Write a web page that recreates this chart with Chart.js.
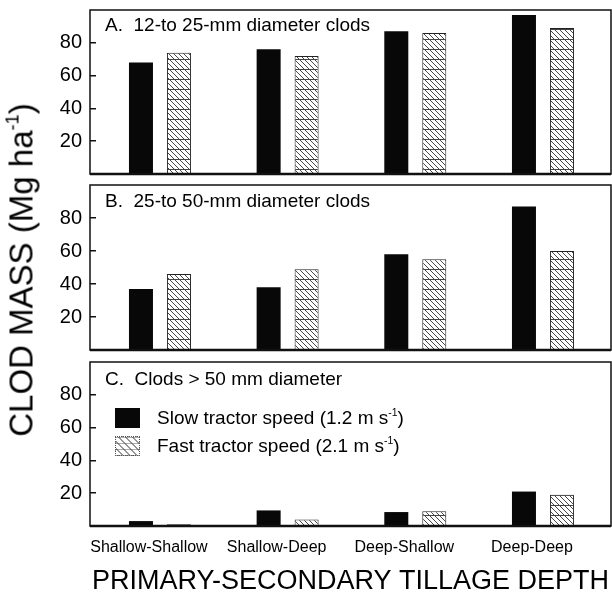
<!DOCTYPE html>
<html><head><meta charset="utf-8">
<script src="https://cdn.jsdelivr.net/npm/chart.js@4.4.1/dist/chart.umd.min.js"></script>
<style>
html,body{margin:0;padding:0;background:#fff;}
body{width:612px;height:593px;overflow:hidden;position:relative;font-family:"Liberation Sans",Arial,Helvetica,sans-serif;color:#000;}
canvas{position:absolute;left:0;}
.ptitle{position:absolute;left:105px;font-size:19px;line-height:22px;white-space:nowrap;}
#ytitle{position:absolute;left:24px;top:270px;transform:translate(-50%,-50%) rotate(-90deg);white-space:nowrap;font-size:33px;line-height:36px;}
sup{font-size:55%;vertical-align:0;position:relative;top:-0.75em;}
.lrow{position:absolute;left:115px;height:21px;white-space:nowrap;font-size:19px;line-height:21px;}
.lbox{position:absolute;left:0;top:0;width:25px;height:20px;box-sizing:border-box;}
.ltext{position:absolute;left:42px;top:-1px;}
</style></head><body>
<canvas id="cA" width="612" height="180" style="top:0px;width:612px;height:180px"></canvas>
<canvas id="cB" width="612" height="176" style="top:180px;width:612px;height:176px"></canvas>
<canvas id="cC" width="612" height="237" style="top:356px;width:612px;height:237px"></canvas>
<div id="tA" class="ptitle" style="top:14px"></div>
<div id="tB" class="ptitle" style="top:190px"></div>
<div id="tC" class="ptitle" style="top:368px"></div>
<div id="ytitle"></div>
<div id="legend"></div>
<script>
// ---- data ----
const categories = ['Shallow-Shallow', 'Shallow-Deep', 'Deep-Shallow', 'Deep-Deep'];
const seriesNames = ['Slow tractor speed (1.2 m s^-1)', 'Fast tractor speed (2.1 m s^-1)'];
const panelTitles = ['A.\u00a0 12-to 25-mm diameter clods', 'B.\u00a0 25-to 50-mm diameter clods', 'C.\u00a0 Clods > 50 mm diameter'];
const slowA = [68, 76, 87, 97];
const fastA = [74, 72, 86, 89];
const slowB = [37, 38, 58, 87];
const fastB = [46, 49, 55, 60];
const slowC = [3, 9.5, 8.5, 21];
const fastC = [1, 4, 9, 19];
const yTicks = [20, 40, 60, 80];
const yMax = 100;
const yTitle = 'CLOD MASS (Mg ha^-1)';
const xTitle = 'PRIMARY-SECONDARY TILLAGE DEPTH';

function supHtml(s){
  return s.replace(/&/g,'&amp;').replace(/</g,'&lt;').replace(/>/g,'&gt;').replace(/\^(-?\d+)/g,'<sup>$1</sup>');
}

function makeHatch(){
  const c = document.createElement('canvas'); c.width = 10; c.height = 10;
  const g = c.getContext('2d');
  g.fillStyle = '#fff'; g.fillRect(0,0,10,10);
  g.strokeStyle = '#333'; g.lineWidth = 0.9;
  g.beginPath();
  g.moveTo(-1,-1); g.lineTo(11,11);
  g.moveTo(4,-1); g.lineTo(11,6);
  g.moveTo(-1,4); g.lineTo(6,11);
  g.stroke();
  g.strokeStyle = '#444'; g.lineWidth = 1;
  g.beginPath(); g.moveTo(0,9.5); g.lineTo(10,9.5); g.stroke();
  return g.createPattern(c,'repeat');
}
const hatch = makeHatch();

const framePlugin = {
  id: 'frame',
  afterDraw(chart){
    const {ctx, chartArea:a} = chart;
    ctx.save();
    ctx.strokeStyle = '#111';
    ctx.lineWidth = 1.5;
    ctx.strokeRect(a.left, a.top, a.right - a.left, a.bottom - a.top);
    ctx.lineWidth = 2.5;
    ctx.beginPath(); ctx.moveTo(a.left, a.bottom); ctx.lineTo(a.right, a.bottom); ctx.stroke();
    ctx.restore();
  }
};

function pts(arr){ return arr.map((v,i)=>({x:i, y:v})); }

function makeChart(id, slow, fast, showX, pad){
  const xScale = {
    type: 'linear', min: -0.548, max: 3.533, offset: false,
    display: showX,
    grid: {display:false, drawTicks:false},
    border: {display:false},
    afterBuildTicks(s){ s.ticks = categories.map((c,i)=>({value:i})); },
    afterFit(s){ if (showX){ s.height = 67; } s.paddingLeft = 0; s.paddingRight = 0; },
    ticks: {
      autoSkip:false, maxRotation:0, minRotation:0, padding: 12, labelOffset: -11,
      color:'#000', font:{family:'"Liberation Sans", Arial, sans-serif', size:16},
      callback(v){ return categories[Math.round(v)]; }
    },
    title: {
      display: showX, text: xTitle, color:'#000',
      font:{family:'"Liberation Sans", Arial, sans-serif', size:27, lineHeight:1},
      padding:{top:0, bottom:-2}
    }
  };
  return new Chart(document.getElementById(id), {
    type: 'bar',
    data: {
      datasets: [
        {label: seriesNames[0], data: pts(slow), backgroundColor:'#080808', borderWidth:0,
         categoryPercentage:0.595, barPercentage:0.632},
        {label: seriesNames[1], data: pts(fast), backgroundColor: hatch, borderColor:'#222', borderWidth:1,
         categoryPercentage:0.595, barPercentage:0.632}
      ]
    },
    options: {
      responsive:false, animation:false, devicePixelRatio:1,
      layout:{padding: pad},
      plugins:{legend:{display:false}, tooltip:{enabled:false}},
      scales: {
        x: xScale,
        y: {
          min:0, max:yMax,
          afterBuildTicks(s){ s.ticks = yTicks.map(v=>({value:v})); },
          afterFit(s){ s.width = 90; s.paddingTop = 0; s.paddingBottom = 0; },
          grid:{drawOnChartArea:false, drawTicks:true, tickLength:-6, color:'#111', lineWidth:1.5},
          border:{display:false},
          ticks:{padding:14, color:'#000', font:{family:'"Liberation Sans", Arial, sans-serif', size:20}}
        }
      }
    },
    plugins:[framePlugin]
  });
}

makeChart('cA', slowA, fastA, false, {top:10, bottom:6, left:0, right:1});
makeChart('cB', slowB, fastB, false, {top:5, bottom:6, left:0, right:1});
makeChart('cC', slowC, fastC, true, {top:6, bottom:0, left:0, right:1});

document.getElementById('tA').textContent = panelTitles[0];
document.getElementById('tB').textContent = panelTitles[1];
document.getElementById('tC').textContent = panelTitles[2];
document.getElementById('ytitle').innerHTML = supHtml(yTitle);

const lg = document.getElementById('legend');
const tops = [408, 436];
seriesNames.forEach((n,i)=>{
  const row = document.createElement('div');
  row.className = 'lrow'; row.style.top = tops[i] + 'px';
  const box = document.createElement('div'); box.className = 'lbox';
  if (i === 0){ box.style.background = '#080808'; }
  else {
    box.style.border = '1px dotted #555';
    box.style.backgroundColor = '#fff';
    box.style.backgroundImage = 'repeating-linear-gradient(45deg, transparent 0 4px, rgba(80,80,80,0.6) 4px 5px), repeating-linear-gradient(0deg, transparent 0 5px, rgba(90,90,90,0.5) 5px 6px)';
  }
  const t = document.createElement('div'); t.className = 'ltext'; t.innerHTML = supHtml(n);
  row.appendChild(box); row.appendChild(t); lg.appendChild(row);
});
</script>
</body></html>
